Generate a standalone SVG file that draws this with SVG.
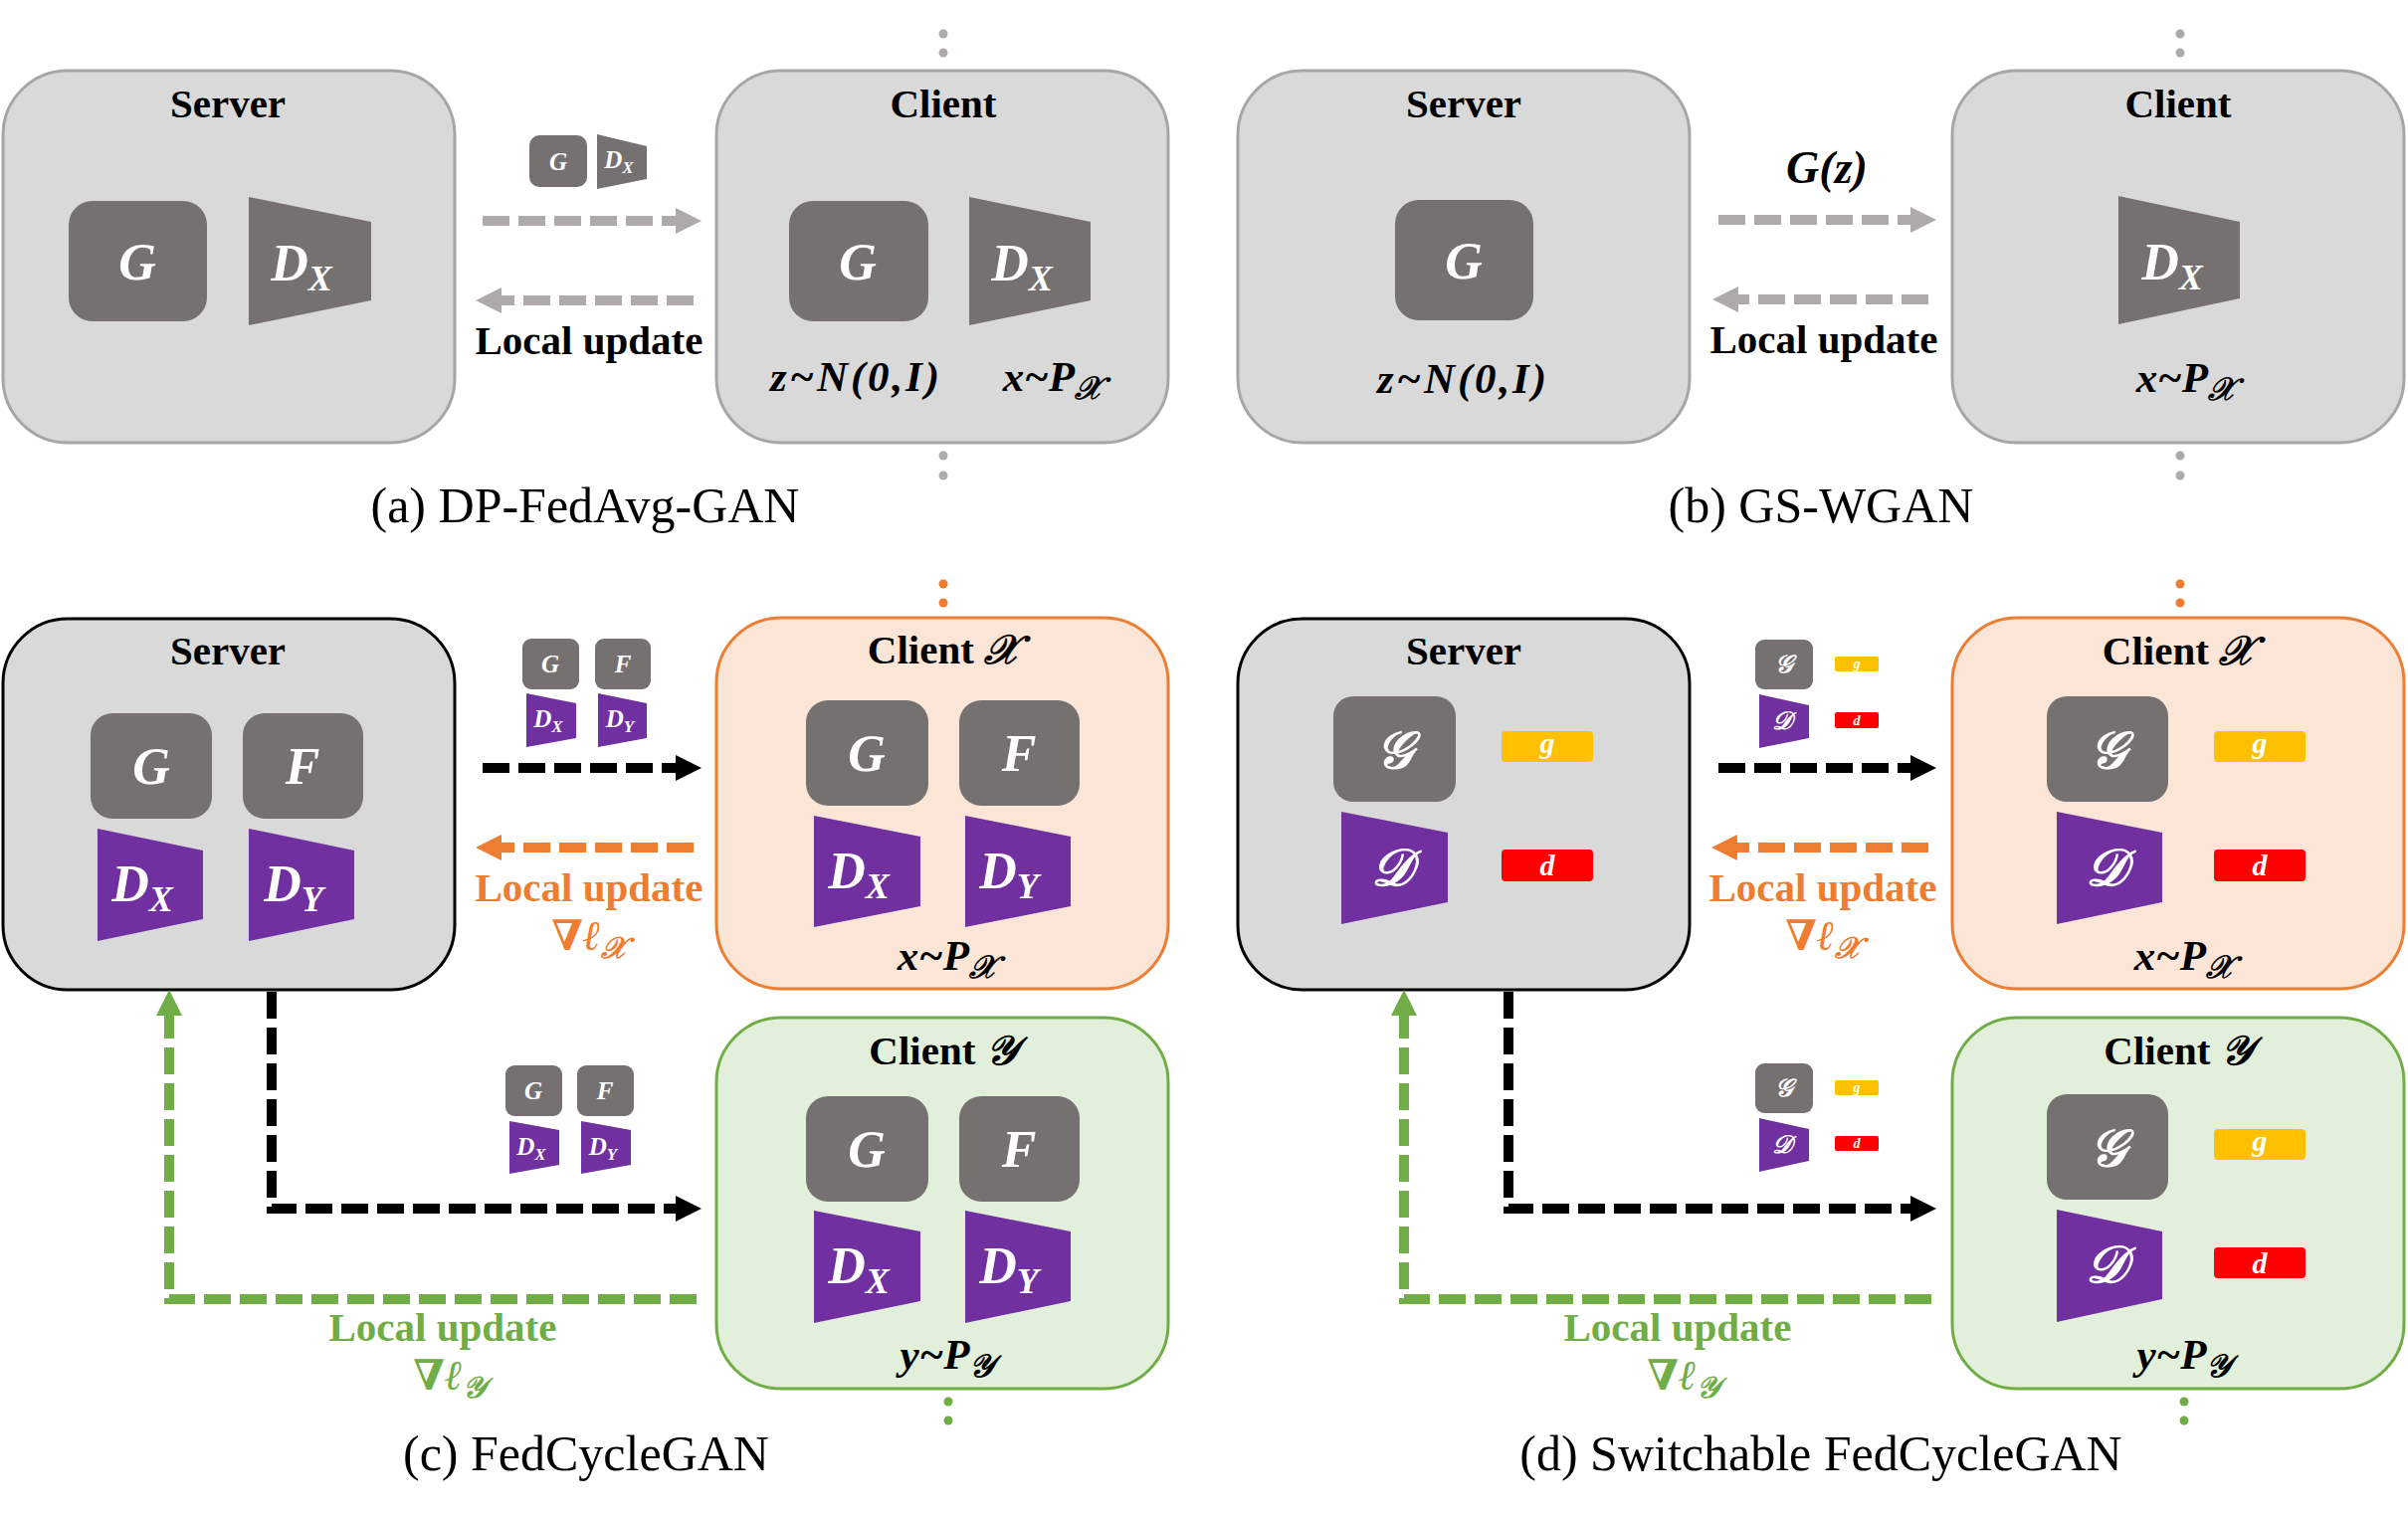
<svg xmlns="http://www.w3.org/2000/svg" width="2420" height="1521" viewBox="0 0 2420 1521">
<style>
.bg{fill:#ffffff}
.boxA{fill:#d9d9d9;stroke:#a6a6a6;stroke-width:3}
.boxS{fill:#d9d9d9;stroke:#000;stroke-width:3}
.boxX{fill:#fbe5d6;stroke:#ed7d31;stroke-width:3}
.boxY{fill:#e2efda;stroke:#70ad47;stroke-width:3}
.mod{fill:#767171}
.pur{fill:#7030a0}
.yel{fill:#ffc000}
.red{fill:#ff0000}
.lbl{font-family:"Liberation Serif","Times New Roman",serif;font-weight:bold;font-size:41px;text-anchor:middle;fill:#000}
.cap{font-family:"Liberation Serif","Times New Roman",serif;font-size:50px;text-anchor:middle;fill:#000}
.m{font-family:"Liberation Serif","DejaVu Serif","DejaVu Sans",serif;font-style:italic;font-weight:bold;text-anchor:middle}
.w{fill:#fff}
.big{font-size:52px}
.sm{font-size:25px}
.eq{font-size:43px;fill:#000}
.or{fill:#ed7d31}
.gr{fill:#70ad47}
.dg{fill:#aeaaaa}
.dash{fill:none;stroke-width:10;stroke-dasharray:27 9}
.sg{stroke:#aeaaaa}
.sb{stroke:#000}
.so{stroke:#ed7d31}
.sgr{stroke:#70ad47}
</style>
<defs>
<marker id="hG" viewBox="0 0 10 10" refX="0" refY="5" markerWidth="2.6" markerHeight="2.6" orient="auto"><path d="M0,0 L10,5 L0,10 z" fill="#aeaaaa"/></marker>
<marker id="hB" viewBox="0 0 10 10" refX="0" refY="5" markerWidth="2.6" markerHeight="2.6" orient="auto"><path d="M0,0 L10,5 L0,10 z" fill="#000"/></marker>
<marker id="hO" viewBox="0 0 10 10" refX="0" refY="5" markerWidth="2.6" markerHeight="2.6" orient="auto"><path d="M0,0 L10,5 L0,10 z" fill="#ed7d31"/></marker>
<marker id="hR" viewBox="0 0 10 10" refX="0" refY="5" markerWidth="2.6" markerHeight="2.6" orient="auto"><path d="M0,0 L10,5 L0,10 z" fill="#70ad47"/></marker>
</defs>
<rect class="bg" x="0" y="0" width="2420" height="1521"/>

<!-- ===== Panel (a) ===== -->
<g id="a-server">
<rect class="boxA" x="3" y="71" width="454" height="374" rx="65"/>
<text class="lbl" x="229" y="118">Server</text>
<rect class="mod" x="69" y="202" width="139" height="121" rx="24"/>
<text class="m w big" x="138" y="281">G</text>
<polygon class="mod" points="250,198 373,223 373,302 250,327"/>
<text class="m w big" x="303" y="282">D<tspan font-size="36" dy="10">X</tspan></text>
</g>
<g id="a-client">
<rect class="boxA" x="720" y="71" width="454" height="374" rx="65"/>
<text class="lbl" x="948" y="118">Client</text>
<rect class="mod" x="793" y="202" width="140" height="121" rx="24"/>
<text class="m w big" x="862" y="281">G</text>
<polygon class="mod" points="974,198 1096,223 1096,302 974,327"/>
<text class="m w big" x="1027" y="282">D<tspan font-size="36" dy="10">X</tspan></text>
<text class="m eq" x="859" y="393" textLength="170" lengthAdjust="spacing">z~N(0,I)</text>
<text class="m eq" x="1058" y="393">x~P<tspan font-size="32" dy="8">𝒳</tspan></text>
</g>
<g id="a-icons">
<rect class="mod" x="532" y="136" width="58" height="52" rx="10"/>
<text class="m w sm" x="561" y="171">G</text>
<polygon class="mod" points="600,135 650,147 650,180 600,190"/>
<text class="m w sm" x="622" y="169">D<tspan font-size="17" dy="5">X</tspan></text>
</g>
<g id="a-labels">
<text class="lbl" x="592" y="356">Local update</text>
<text class="cap" x="588" y="525">(a) DP-FedAvg-GAN</text>
<circle class="dg" cx="948" cy="34" r="4.5"/><circle class="dg" cx="948" cy="53" r="4.5"/>
<circle class="dg" cx="948" cy="458" r="4.5"/><circle class="dg" cx="948" cy="478" r="4.5"/>
</g>

<!-- ===== Panel (b) ===== -->
<g id="b-server">
<rect class="boxA" x="1244" y="71" width="454" height="374" rx="65"/>
<text class="lbl" x="1471" y="118">Server</text>
<rect class="mod" x="1402" y="201" width="139" height="121" rx="24"/>
<text class="m w big" x="1471" y="280">G</text>
<text class="m eq" x="1469" y="395" textLength="170" lengthAdjust="spacing">z~N(0,I)</text>
</g>
<g id="b-client">
<rect class="boxA" x="1962" y="71" width="454" height="374" rx="65"/>
<text class="lbl" x="2189" y="118">Client</text>
<polygon class="mod" points="2129,197 2251,223 2251,300 2129,326"/>
<text class="m w big" x="2183" y="281">D<tspan font-size="36" dy="10">X</tspan></text>
<text class="m eq" x="2197" y="394">x~P<tspan font-size="32" dy="8">𝒳</tspan></text>
</g>
<g id="b-labels">
<text class="m" x="1836" y="184" font-size="46">G(z)</text>
<text class="lbl" x="1833" y="355">Local update</text>
<text class="cap" x="1830" y="525">(b) GS-WGAN</text>
<circle class="dg" cx="2191" cy="34" r="4.5"/><circle class="dg" cx="2191" cy="53" r="4.5"/>
<circle class="dg" cx="2191" cy="458" r="4.5"/><circle class="dg" cx="2191" cy="478" r="4.5"/>
</g>

<!-- ===== Panel (c) ===== -->
<g id="c-server">
<rect class="boxS" x="3" y="622" width="454" height="373" rx="65"/>
<text class="lbl" x="229" y="668">Server</text>
<rect class="mod" x="91" y="717" width="122" height="106" rx="22"/>
<text class="m w big" x="152" y="788">G</text>
<rect class="mod" x="244" y="717" width="121" height="106" rx="22"/>
<text class="m w big" x="304" y="788">F</text>
<polygon class="pur" points="98,833 204,855 204,924 98,946"/>
<text class="m w big" x="143" y="906">D<tspan font-size="36" dy="10">X</tspan></text>
<polygon class="pur" points="250,833 356,855 356,924 250,946"/>
<text class="m w big" x="295" y="906">D<tspan font-size="36" dy="10">Y</tspan></text>
</g>
<g id="c-clientX">
<rect class="boxX" x="720" y="621" width="454" height="373" rx="65"/>
<text class="lbl" x="948" y="667">Client <tspan font-style="italic">𝒳</tspan></text>
<rect class="mod" x="810" y="704" width="123" height="106" rx="22"/>
<text class="m w big" x="871" y="775">G</text>
<rect class="mod" x="964" y="704" width="121" height="106" rx="22"/>
<text class="m w big" x="1024" y="775">F</text>
<polygon class="pur" points="818,820 925,841 925,911 818,932"/>
<text class="m w big" x="863" y="893">D<tspan font-size="36" dy="10">X</tspan></text>
<polygon class="pur" points="970,820 1076,841 1076,911 970,932"/>
<text class="m w big" x="1014" y="893">D<tspan font-size="36" dy="10">Y</tspan></text>
<text class="m eq" x="952" y="975">x~P<tspan font-size="32" dy="8">𝒳</tspan></text>
</g>
<g id="c-clientY">
<rect class="boxY" x="720" y="1023" width="454" height="373" rx="65"/>
<text class="lbl" x="948" y="1070">Client <tspan font-style="italic">𝒴</tspan></text>
<rect class="mod" x="810" y="1102" width="123" height="106" rx="22"/>
<text class="m w big" x="871" y="1173">G</text>
<rect class="mod" x="964" y="1102" width="121" height="106" rx="22"/>
<text class="m w big" x="1024" y="1173">F</text>
<polygon class="pur" points="818,1217 925,1238 925,1308 818,1330"/>
<text class="m w big" x="863" y="1290">D<tspan font-size="36" dy="10">X</tspan></text>
<polygon class="pur" points="970,1217 1076,1238 1076,1308 970,1330"/>
<text class="m w big" x="1014" y="1290">D<tspan font-size="36" dy="10">Y</tspan></text>
<text class="m eq" x="952" y="1376">y~P<tspan font-size="32" dy="8">𝒴</tspan></text>
</g>
<g id="c-icons-top">
<rect class="mod" x="525" y="642" width="57" height="51" rx="9"/>
<text class="m w sm" x="553" y="676">G</text>
<rect class="mod" x="598" y="642" width="56" height="51" rx="9"/>
<text class="m w sm" x="626" y="676">F</text>
<polygon class="pur" points="529,697 579,707 579,742 529,751"/>
<text class="m w sm" x="551" y="731">D<tspan font-size="17" dy="5">X</tspan></text>
<polygon class="pur" points="601,697 650,707 650,742 601,751"/>
<text class="m w sm" x="623" y="731">D<tspan font-size="17" dy="5">Y</tspan></text>
</g>
<g id="c-icons-bottom">
<rect class="mod" x="508" y="1071" width="57" height="51" rx="9"/>
<text class="m w sm" x="536" y="1105">G</text>
<rect class="mod" x="580" y="1071" width="57" height="51" rx="9"/>
<text class="m w sm" x="608" y="1105">F</text>
<polygon class="pur" points="512,1127 562,1136 562,1171 512,1180"/>
<text class="m w sm" x="534" y="1161">D<tspan font-size="17" dy="5">X</tspan></text>
<polygon class="pur" points="584,1127 634,1136 634,1171 584,1180"/>
<text class="m w sm" x="606" y="1161">D<tspan font-size="17" dy="5">Y</tspan></text>
</g>
<g id="c-labels">
<text class="lbl or" x="592" y="906">Local update</text>
<text class="m or" x="592" y="955" font-size="42">∇ℓ<tspan font-size="30" dy="8">𝒳</tspan></text>
<text class="lbl gr" x="445" y="1348">Local update</text>
<text class="m gr" x="452" y="1397" font-size="42">∇ℓ<tspan font-size="30" dy="8">𝒴</tspan></text>
<text class="cap" x="589" y="1478">(c) FedCycleGAN</text>
<circle class="or" cx="948" cy="587" r="4.5"/><circle class="or" cx="948" cy="606" r="4.5"/>
<circle class="gr" cx="953" cy="1409" r="4.5"/><circle class="gr" cx="953" cy="1428" r="4.5"/>
</g>

<!-- ===== Panel (d) ===== -->
<g id="d-server">
<rect class="boxS" x="1244" y="622" width="454" height="373" rx="65"/>
<text class="lbl" x="1471" y="668">Server</text>
<rect class="mod" x="1340" y="700" width="123" height="106" rx="20"/>
<text class="m w big" x="1401" y="772">𝒢</text>
<rect class="yel" x="1509" y="735" width="92" height="31" rx="4"/>
<text class="m w" x="1555" y="757" font-size="30">g</text>
<polygon class="pur" points="1348,816 1455,837 1455,907 1348,929"/>
<text class="m w big" x="1398" y="890">𝒟</text>
<rect class="red" x="1509" y="854" width="92" height="32" rx="4"/>
<text class="m w" x="1555" y="880" font-size="30">d</text>
</g>
<g id="d-clientX">
<rect class="boxX" x="1962" y="621" width="454" height="373" rx="65"/>
<text class="lbl" x="2189" y="668">Client <tspan font-style="italic">𝒳</tspan></text>
<rect class="mod" x="2057" y="700" width="122" height="106" rx="20"/>
<text class="m w big" x="2118" y="772">𝒢</text>
<rect class="yel" x="2225" y="735" width="92" height="31" rx="4"/>
<text class="m w" x="2271" y="757" font-size="30">g</text>
<polygon class="pur" points="2067,816 2173,837 2173,907 2067,929"/>
<text class="m w big" x="2116" y="890">𝒟</text>
<rect class="red" x="2225" y="854" width="92" height="32" rx="4"/>
<text class="m w" x="2271" y="880" font-size="30">d</text>
<text class="m eq" x="2195" y="975">x~P<tspan font-size="32" dy="8">𝒳</tspan></text>
</g>
<g id="d-clientY">
<rect class="boxY" x="1962" y="1023" width="454" height="373" rx="65"/>
<text class="lbl" x="2189" y="1070">Client <tspan font-style="italic">𝒴</tspan></text>
<rect class="mod" x="2057" y="1100" width="122" height="106" rx="20"/>
<text class="m w big" x="2118" y="1172">𝒢</text>
<rect class="yel" x="2225" y="1135" width="92" height="31" rx="4"/>
<text class="m w" x="2271" y="1157" font-size="30">g</text>
<polygon class="pur" points="2067,1216 2173,1238 2173,1306 2067,1329"/>
<text class="m w big" x="2116" y="1289">𝒟</text>
<rect class="red" x="2225" y="1254" width="92" height="31" rx="4"/>
<text class="m w" x="2271" y="1280" font-size="30">d</text>
<text class="m eq" x="2195" y="1376">y~P<tspan font-size="32" dy="8">𝒴</tspan></text>
</g>
<g id="d-icons-top">
<rect class="mod" x="1764" y="643" width="58" height="50" rx="9"/>
<text class="m w sm" x="1793" y="676">𝒢</text>
<rect class="yel" x="1844" y="660" width="44" height="15" rx="2"/>
<text class="m w" x="1866" y="672" font-size="14">g</text>
<polygon class="pur" points="1768,698 1818,709 1818,742 1768,752"/>
<text class="m w sm" x="1791" y="733">𝒟</text>
<rect class="red" x="1844" y="716" width="44" height="16" rx="2"/>
<text class="m w" x="1866" y="729" font-size="14">d</text>
</g>
<g id="d-icons-bottom">
<rect class="mod" x="1764" y="1069" width="58" height="50" rx="9"/>
<text class="m w sm" x="1793" y="1102">𝒢</text>
<rect class="yel" x="1844" y="1086" width="44" height="15" rx="2"/>
<text class="m w" x="1866" y="1098" font-size="14">g</text>
<polygon class="pur" points="1768,1124 1818,1135 1818,1167 1768,1178"/>
<text class="m w sm" x="1791" y="1159">𝒟</text>
<rect class="red" x="1844" y="1142" width="44" height="15" rx="2"/>
<text class="m w" x="1866" y="1154" font-size="14">d</text>
</g>
<g id="d-labels">
<text class="lbl or" x="1832" y="906">Local update</text>
<text class="m or" x="1832" y="955" font-size="42">∇ℓ<tspan font-size="30" dy="8">𝒳</tspan></text>
<text class="lbl gr" x="1686" y="1348">Local update</text>
<text class="m gr" x="1692" y="1397" font-size="42">∇ℓ<tspan font-size="30" dy="8">𝒴</tspan></text>
<text class="cap" x="1830" y="1478">(d) Switchable FedCycleGAN</text>
<circle class="or" cx="2191" cy="587" r="4.5"/><circle class="or" cx="2191" cy="606" r="4.5"/>
<circle class="gr" cx="2195" cy="1409" r="4.5"/><circle class="gr" cx="2195" cy="1428" r="4.5"/>
</g>

<!-- ===== Connectors ===== -->
<g id="connectors">
<line class="dash sg" x1="485" y1="222" x2="679" y2="222" marker-end="url(#hG)"/>
<line class="dash sg" x1="697" y1="302" x2="504" y2="302" marker-end="url(#hG)"/>
<line class="dash sg" x1="1727" y1="221" x2="1920" y2="221" marker-end="url(#hG)"/>
<line class="dash sg" x1="1938" y1="301" x2="1747" y2="301" marker-end="url(#hG)"/>
<line class="dash sb" x1="485" y1="772" x2="679" y2="772" marker-end="url(#hB)"/>
<line class="dash so" x1="697" y1="852" x2="504" y2="852" marker-end="url(#hO)"/>
<path class="dash sb" d="M273,997 V1215 H679" marker-end="url(#hB)"/>
<path class="dash sgr" d="M700,1306 H170 V1021" marker-end="url(#hR)"/>
<line class="dash sb" x1="1727" y1="772" x2="1920" y2="772" marker-end="url(#hB)"/>
<line class="dash so" x1="1938" y1="852" x2="1746" y2="852" marker-end="url(#hO)"/>
<path class="dash sb" d="M1516,997 V1215 H1920" marker-end="url(#hB)"/>
<path class="dash sgr" d="M1941,1306 H1411 V1021" marker-end="url(#hR)"/>
</g>
</svg>
